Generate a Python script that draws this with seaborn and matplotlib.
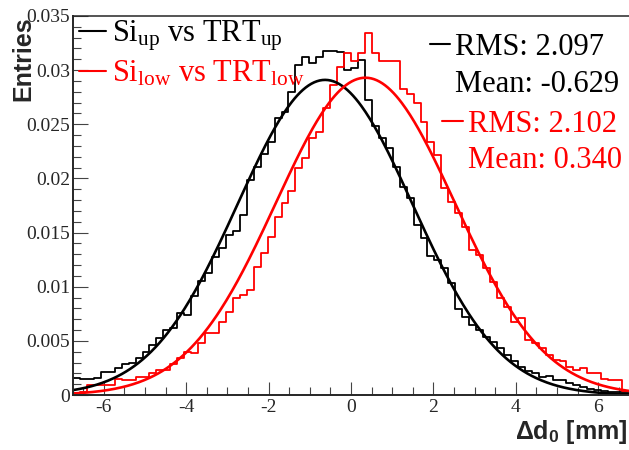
import numpy as np
import pandas as pd
import matplotlib
matplotlib.use("Agg")
import matplotlib.pyplot as plt
import seaborn as sns
from matplotlib.lines import Line2D
from matplotlib.ticker import FixedLocator, MultipleLocator, FuncFormatter

# ---------------- data ----------------
x_min, x_max = -6.75, 6.75
n_bins = 80

up_counts = [0.0016, 0.0015, 0.0015, 0.0016, 0.0021, 0.0021, 0.0025, 0.0029, 0.0030, 0.0034,
             0.0040, 0.0046, 0.0053, 0.0060, 0.0062, 0.0076, 0.0074, 0.0091, 0.0105, 0.0113,
             0.0127, 0.0136, 0.0148, 0.0151, 0.0166, 0.0199, 0.0211, 0.0223, 0.0234, 0.0256,
             0.0261, 0.0280, 0.0305, 0.0312, 0.0307, 0.0312, 0.0318, 0.0318, 0.0317, 0.0300,
             0.0302, 0.0309, 0.0272, 0.0248, 0.0237, 0.0228, 0.0211, 0.0192, 0.0182, 0.0157,
             0.0145, 0.0128, 0.0125, 0.0117, 0.0103, 0.0079, 0.0072, 0.0065, 0.0060, 0.0054,
             0.0049, 0.0043, 0.0037, 0.0031, 0.0026, 0.0022, 0.0020, 0.0017, 0.0018, 0.0014,
             0.0014, 0.0011, 0.0009, 0.0007, 0.0006, 0.0005, 0.0004, 0.0003, 0.0003, 0.0003]

low_counts = [0.0002, 0.0003, 0.0009, 0.0009, 0.0009, 0.0009, 0.0015, 0.0014, 0.0014, 0.0017,
              0.0017, 0.0020, 0.0023, 0.0023, 0.0029, 0.0034, 0.0040, 0.0039, 0.0048, 0.0057,
              0.0057, 0.0067, 0.0077, 0.0090, 0.0092, 0.0097, 0.0118, 0.0131, 0.0146, 0.0164,
              0.0177, 0.0188, 0.0210, 0.0219, 0.0237, 0.0243, 0.0265, 0.0286, 0.0303, 0.0316,
              0.0308, 0.0316, 0.0334, 0.0316, 0.0308, 0.0308, 0.0308, 0.0283, 0.0278, 0.0270,
              0.0252, 0.0234, 0.0222, 0.0191, 0.0178, 0.0168, 0.0155, 0.0134, 0.0129, 0.0117,
              0.0104, 0.0090, 0.0081, 0.0067, 0.0071, 0.0051, 0.0048, 0.0043, 0.0037, 0.0032,
              0.0031, 0.0026, 0.0023, 0.0025, 0.0020, 0.0020, 0.0015, 0.0014, 0.0014, 0.0004]

# Gaussian fit parameters: (constant, mean, sigma)
up_fit = (0.0291, -0.63, 2.12)
low_fit = (0.0293, 0.35, 2.17)

up_label = r"Si$_{\rm up}$ vs TRT$_{\rm up}$"
low_label = r"Si$_{\rm low}$ vs TRT$_{\rm low}$"
up_stats = ["RMS: 2.097", "Mean: -0.629"]
low_stats = ["RMS: 2.102", "Mean: 0.340"]

x_ticks = [-6, -4, -2, 0, 2, 4, 6]
y_ticks = [0, 0.005, 0.01, 0.015, 0.02, 0.025, 0.03, 0.035]

# ---------------- style ----------------
sns.set_style("ticks")
plt.rcParams.update({
    "font.family": ["Liberation Serif", "DejaVu Serif"],
    "mathtext.fontset": "custom",
    "mathtext.rm": "Liberation Serif",
    "mathtext.it": "Liberation Serif:italic",
    "mathtext.bf": "Liberation Sans:bold",
    "axes.unicode_minus": False,
})

fig = plt.figure(figsize=(6.29, 4.5), dpi=100)
ax = fig.add_axes([73 / 629, 55 / 450, 556 / 629, 379 / 450])

edges = np.linspace(x_min, x_max, n_bins + 1)
centers = 0.5 * (edges[:-1] + edges[1:])
for counts, col in [(up_counts, "black"), (low_counts, "red")]:
    df = pd.DataFrame({"d0": centers, "w": counts})
    sns.histplot(data=df, x="d0", weights="w", bins=n_bins,
                 binrange=(x_min, x_max), element="step", fill=False,
                 color=col, ax=ax, linewidth=1.3)

xs = np.linspace(x_min, x_max, 400)
for (c, m, s), col in [(up_fit, "black"), (low_fit, "red")]:
    sns.lineplot(x=xs, y=c * np.exp(-0.5 * ((xs - m) / s) ** 2), color=col,
                 linewidth=1.9, ax=ax)

ax.set_xlim(x_min, x_max)
ax.set_ylim(0, 0.035)
ax.xaxis.set_major_locator(FixedLocator(x_ticks))
ax.xaxis.set_minor_locator(MultipleLocator(0.5))
ax.yaxis.set_major_locator(FixedLocator(y_ticks))
ax.yaxis.set_minor_locator(MultipleLocator(0.001))
ax.yaxis.set_major_formatter(FuncFormatter(lambda v, p: "%g" % v))
ax.xaxis.set_major_formatter(FuncFormatter(lambda v, p: "%g" % v))

ax.tick_params(axis="both", which="both", direction="in", color="#444444",
               width=0.8, labelsize=14, top=False, right=False)
ax.tick_params(axis="x", which="major", length=9.4, pad=3)
ax.tick_params(axis="x", which="minor", length=5.5)
ax.tick_params(axis="y", which="major", length=10.8, pad=2)
ax.tick_params(axis="y", which="minor", length=5.5)

ax.spines["right"].set_visible(False)
ax.spines["left"].set_linewidth(1.4)
ax.spines["bottom"].set_linewidth(1.4)
ax.spines["top"].set_linewidth(1.1)

ax.set_xlabel(r"Δd$_{\mathbf{0}}$ [mm]", loc="right", fontsize=18,
              fontweight="bold", family="Liberation Sans")
ax.xaxis.set_label_coords(0.9964, -0.062)
ax.set_ylabel("Entries", loc="top", fontsize=18, fontweight="bold",
              family="Liberation Sans")
ax.yaxis.set_label_coords(-0.068, 1.0)

# legends
leg_prop = {"family": "Liberation Serif", "size": 22}
leg1 = ax.legend(handles=[Line2D([], [], color="black", lw=1.5),
                          Line2D([], [], color="red", lw=1.5)],
                 labels=[up_label, low_label], loc="upper left",
                 bbox_to_anchor=(0.0108, 0.993), frameon=False, prop=leg_prop,
                 handlelength=0.88, handletextpad=0.2, borderpad=0,
                 borderaxespad=0, labelspacing=0.2, labelcolor=["black", "red"])
ax.add_artist(leg1)

leg2 = ax.legend(handles=[Line2D([], [], color="black", lw=1.5),
                          Line2D([], [], color="none")],
                 labels=up_stats, loc="upper left",
                 bbox_to_anchor=(0.642, 0.955), frameon=False, prop=leg_prop,
                 handlelength=0.65, handletextpad=0.17, borderpad=0,
                 borderaxespad=0, labelspacing=0.26, labelcolor="black")
ax.add_artist(leg2)

leg3 = ax.legend(handles=[Line2D([], [], color="red", lw=1.5),
                          Line2D([], [], color="none")],
                 labels=low_stats, loc="upper left",
                 bbox_to_anchor=(0.664, 0.752), frameon=False, prop=leg_prop,
                 handlelength=0.68, handletextpad=0.17, borderpad=0,
                 borderaxespad=0, labelspacing=0.24, labelcolor="red")

fig.savefig("out.png", dpi=100)
